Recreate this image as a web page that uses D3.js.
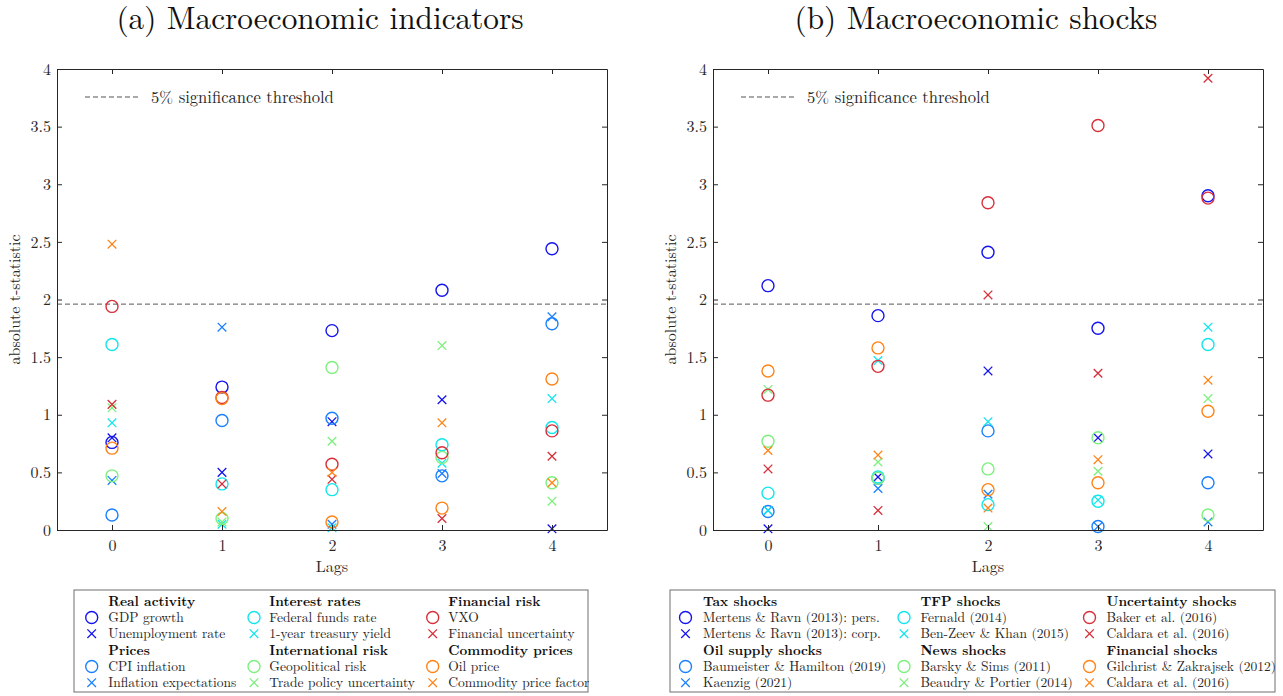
<!DOCTYPE html>
<html>
<head>
<meta charset="utf-8">
<script src="https://cdn.jsdelivr.net/npm/d3@7"></script>
<style>
  html, body { margin: 0; padding: 0; background: #fff; }
  svg text { font-family: "Latin Modern Roman", "CMU Serif", "Liberation Serif", serif; fill: #262626; }
</style>
</head>
<body>
<svg id="chart" width="1283" height="696"></svg>
<script>
// Lags and axis ticks
const lags = [0, 1, 2, 3, 4];
const yTicks = [0, 0.5, 1, 1.5, 2, 2.5, 3, 3.5, 4];
const yTickLabels = ["0", "0.5", "1", "1.5", "2", "2.5", "3", "3.5", "4"];
const threshold = 1.96;

// (a) Macroeconomic indicators: absolute t-statistics by lag
const gdpGrowth            = [0.76, 1.24, 1.73, 2.08, 2.44];
const unemploymentRate     = [0.80, 0.50, 0.94, 1.13, 0.01];
const cpiInflation         = [0.13, 0.95, 0.97, 0.47, 1.79];
const inflationExpect      = [0.43, 1.76, 0.05, 0.49, 1.85];
const fedFundsRate         = [1.61, 0.40, 0.35, 0.74, 0.89];
const treasuryYield1y      = [0.93, 0.05, 0.02, 0.58, 1.14];
const geopoliticalRisk     = [0.47, 0.10, 1.41, 0.63, 0.41];
const tradePolicyUnc       = [1.06, 0.07, 0.77, 1.60, 0.25];
const vxo                  = [1.94, 1.15, 0.57, 0.67, 0.86];
const financialUnc         = [1.09, 0.40, 0.44, 0.10, 0.64];
const oilPrice             = [0.71, 1.14, 0.07, 0.19, 1.31];
const commodityFactor      = [2.48, 0.16, 0.50, 0.93, 0.41];

// (b) Macroeconomic shocks: absolute t-statistics by lag
const mertensPers          = [2.12, 1.86, 2.41, 1.75, 2.90];
const mertensCorp          = [0.01, 0.46, 1.38, 0.80, 0.66];
const baumeisterHamilton   = [0.16, 0.45, 0.86, 0.03, 0.41];
const kaenzig              = [0.17, 0.36, 0.31, 0.03, 0.07];
const fernald              = [0.32, 0.46, 0.22, 0.25, 1.61];
const benZeevKhan          = [0.17, 1.47, 0.94, 0.26, 1.76];
const barskySims           = [0.77, 0.45, 0.53, 0.80, 0.13];
const beaudryPortier       = [1.22, 0.59, 0.03, 0.51, 1.14];
const bakerEtAl            = [1.17, 1.42, 2.84, 3.51, 2.88];
const caldaraUnc           = [0.53, 0.17, 2.04, 1.36, 3.92];
const gilchristZakrajsek   = [1.38, 1.58, 0.35, 0.41, 1.03];
const caldaraFin           = [0.69, 0.65, 0.19, 0.61, 1.30];

// Series colours (jet-like ramp)
const BLUE = "#1414f0", AZURE = "#1a80ff", CYAN = "#12e6ec",
      GREEN = "#7ef07e", RED = "#d8303a", ORANGE = "#ff8418";

// Legend layout: columns of two groups, each group with a circle and a cross series
const panelA = {
  title: "(a) Macroeconomic indicators",
  columns: [
    [ { header: "Real activity", items: [["GDP growth", gdpGrowth, BLUE, "o"], ["Unemployment rate", unemploymentRate, BLUE, "x"]] },
      { header: "Prices", items: [["CPI inflation", cpiInflation, AZURE, "o"], ["Inflation expectations", inflationExpect, AZURE, "x"]] } ],
    [ { header: "Interest rates", items: [["Federal funds rate", fedFundsRate, CYAN, "o"], ["1-year treasury yield", treasuryYield1y, CYAN, "x"]] },
      { header: "International risk", items: [["Geopolitical risk", geopoliticalRisk, GREEN, "o"], ["Trade policy uncertainty", tradePolicyUnc, GREEN, "x"]] } ],
    [ { header: "Financial risk", items: [["VXO", vxo, RED, "o"], ["Financial uncertainty", financialUnc, RED, "x"]] },
      { header: "Commodity prices", items: [["Oil price", oilPrice, ORANGE, "o"], ["Commodity price factor", commodityFactor, ORANGE, "x"]] } ]
  ]
};
const panelB = {
  title: "(b) Macroeconomic shocks",
  columns: [
    [ { header: "Tax shocks", items: [["Mertens & Ravn (2013): pers.", mertensPers, BLUE, "o"], ["Mertens & Ravn (2013): corp.", mertensCorp, BLUE, "x"]] },
      { header: "Oil supply shocks", items: [["Baumeister & Hamilton (2019)", baumeisterHamilton, AZURE, "o"], ["Kaenzig (2021)", kaenzig, AZURE, "x"]] } ],
    [ { header: "TFP shocks", items: [["Fernald (2014)", fernald, CYAN, "o"], ["Ben-Zeev & Khan (2015)", benZeevKhan, CYAN, "x"]] },
      { header: "News shocks", items: [["Barsky & Sims (2011)", barskySims, GREEN, "o"], ["Beaudry & Portier (2014)", beaudryPortier, GREEN, "x"]] } ],
    [ { header: "Uncertainty shocks", items: [["Baker et al. (2016)", bakerEtAl, RED, "o"], ["Caldara et al. (2016)", caldaraUnc, RED, "x"]] },
      { header: "Financial shocks", items: [["Gilchrist & Zakrajsek (2012)", gilchristZakrajsek, ORANGE, "o"], ["Caldara et al. (2016)", caldaraFin, ORANGE, "x"]] } ]
  ]
};

const svg = d3.select("#chart");

function drawMarker(g, type, x, y, color) {
  if (type === "o") {
    g.append("circle").attr("cx", x).attr("cy", y).attr("r", 6)
      .attr("fill", "none").attr("stroke", color).attr("stroke-width", 1.4);
  } else {
    const s = 4.3;
    g.append("path")
      .attr("d", `M${x - s},${y - s}L${x + s},${y + s}M${x - s},${y + s}L${x + s},${y - s}`)
      .attr("fill", "none").attr("stroke", color).attr("stroke-width", 1.3);
  }
}

function drawPanel(panel, layout) {
  const x = d3.scaleLinear().domain([-0.5, 4.5]).range([layout.left, layout.right]);
  const y = d3.scaleLinear().domain([0, 4]).range([530, 69]);
  const g = svg.append("g");

  // Title, centred over the subplot including its y-axis label
  g.append("text").attr("x", (layout.left + layout.right) / 2 - 12).attr("y", 29)
    .attr("text-anchor", "middle").style("font-size", "31.3px").style("fill", "#111")
    .text(panel.title);

  // Threshold line
  g.append("line").attr("x1", x(-0.5)).attr("x2", x(4.5)).attr("y1", y(threshold)).attr("y2", y(threshold))
    .attr("stroke", "#555").attr("stroke-width", 1).attr("stroke-dasharray", "5,3");

  // Points for every series
  panel.columns.forEach(col => col.forEach(grp => grp.items.forEach(([name, vals, color, type]) => {
    const sg = g.append("g").attr("class", "series");
    lags.forEach((lag, i) => drawMarker(sg, type, x(lag), y(vals[i]), color));
  })));

  // Axes with inward ticks on all four sides
  const fmt = d => yTickLabels[yTicks.indexOf(d)];
  const axL = g.append("g").attr("transform", `translate(${layout.left},0)`)
    .call(d3.axisLeft(y).tickValues(yTicks).tickFormat(fmt).tickSizeInner(-5).tickSizeOuter(0).tickPadding(6));
  const axR = g.append("g").attr("transform", `translate(${layout.right},0)`)
    .call(d3.axisRight(y).tickValues(yTicks).tickFormat("").tickSizeInner(-5).tickSizeOuter(0));
  const axB = g.append("g").attr("transform", `translate(0,530)`)
    .call(d3.axisBottom(x).tickValues(lags).tickFormat(d3.format("d")).tickSizeInner(-5).tickSizeOuter(0).tickPadding(10));
  const axT = g.append("g").attr("transform", `translate(0,69)`)
    .call(d3.axisTop(x).tickValues(lags).tickFormat("").tickSizeInner(-5).tickSizeOuter(0));
  [axL, axR, axB, axT].forEach(a => {
    a.selectAll("path, line").attr("stroke", "#262626").attr("stroke-width", 1);
    a.selectAll("text").style("font-size", "16px").style("font-family", null).attr("fill", "#262626");
  });

  // Axis titles
  g.append("text").attr("transform", `translate(${layout.left - 37},${y(2)}) rotate(-90)`)
    .attr("text-anchor", "middle").style("font-size", "16px").text("absolute t-statistic");
  g.append("text").attr("x", x(2)).attr("y", 572).attr("text-anchor", "middle")
    .style("font-size", "16px").text("Lags");

  // Threshold key inside the axes
  g.append("line").attr("x1", layout.left + 28).attr("x2", layout.left + 84).attr("y1", 97).attr("y2", 97)
    .attr("stroke", "#555").attr("stroke-width", 1).attr("stroke-dasharray", "5,3");
  g.append("text").attr("x", layout.left + 94).attr("y", 102.5).style("font-size", "16.6px")
    .text("5% significance threshold");

  // Legend box
  const lg = g.append("g");
  lg.append("rect").attr("x", layout.legend.x0).attr("y", 590)
    .attr("width", layout.legend.x1 - layout.legend.x0).attr("height", 102)
    .attr("fill", "#fff").attr("stroke", "#6e6e6e").attr("stroke-width", 1);
  const rowY = [601, 617.5, 633.7, 650, 666.5, 682.7];
  panel.columns.forEach((col, ci) => {
    const mx = layout.legend.markerX[ci], tx = layout.legend.textX[ci];
    col.forEach((grp, gi) => {
      const base = gi * 3;
      lg.append("text").attr("x", tx).attr("y", rowY[base] + 4.6)
        .style("font-size", "13.5px").style("font-weight", "bold").style("fill", "#111").text(grp.header);
      grp.items.forEach(([name, vals, color, type], ii) => {
        const ry = rowY[base + 1 + ii];
        drawMarker(lg, type, mx, ry, color);
        lg.append("text").attr("x", tx).attr("y", ry + 4.6).style("font-size", "13.5px").text(name);
      });
    });
  });
}

drawPanel(panelA, {
  left: 57, right: 607,
  legend: { x0: 74, x1: 588, markerX: [91.7, 254, 432.7], textX: [108.3, 269.3, 448.3] }
});
drawPanel(panelB, {
  left: 713, right: 1263,
  legend: { x0: 670, x1: 1275, markerX: [685.5, 904, 1089.5], textX: [703, 920.4, 1106.5] }
});
</script>
</body>
</html>
